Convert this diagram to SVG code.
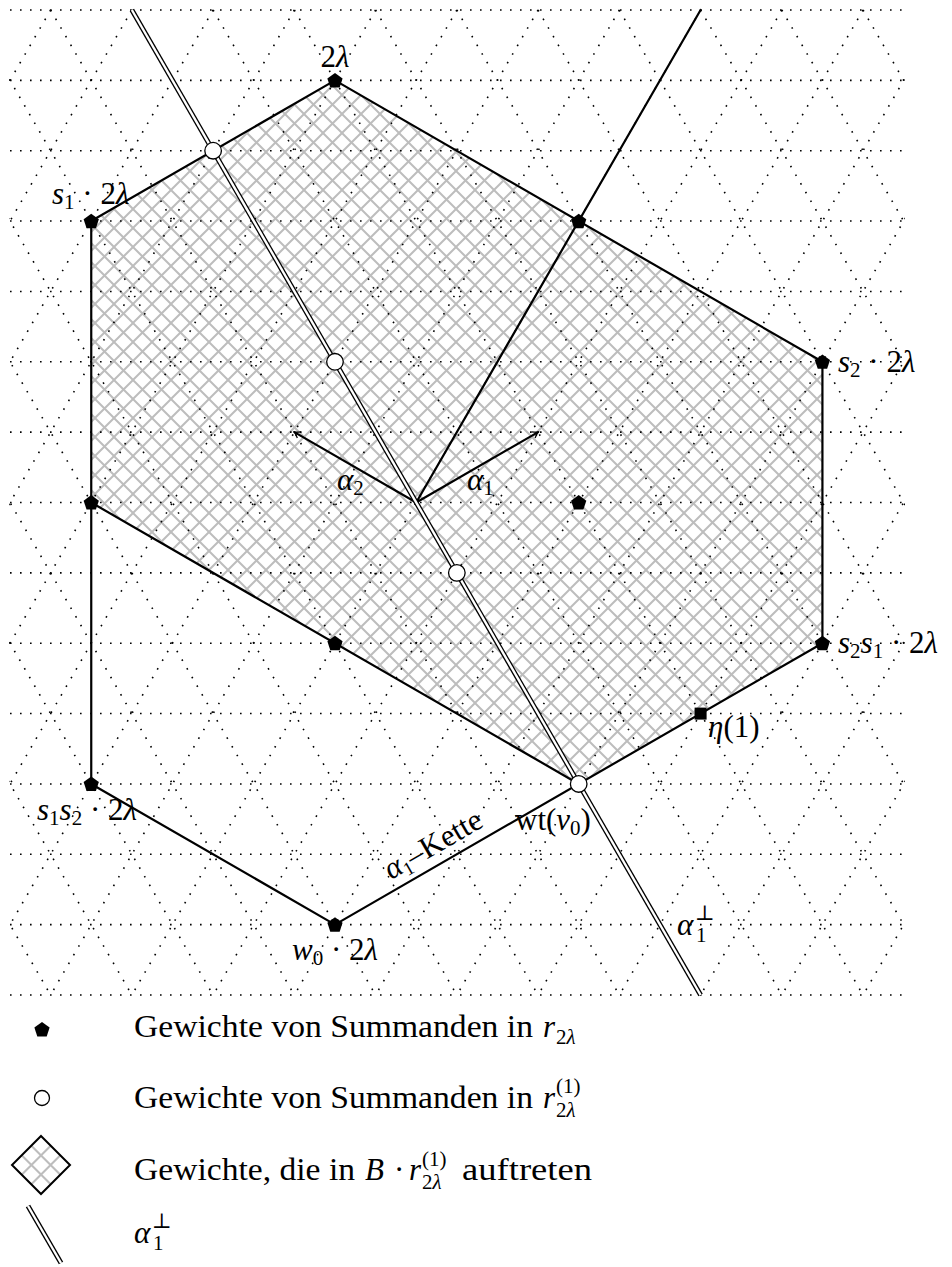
<svg xmlns="http://www.w3.org/2000/svg" width="952" height="1267" viewBox="0 0 952 1267">
<defs>
<style>
.lat{fill:none;stroke:#000;stroke-width:1.6;stroke-dasharray:1.6 8.4}
.edge{fill:none;stroke:#000;stroke-width:2.2;stroke-linejoin:round;stroke-linecap:round}
.dblo{fill:none;stroke:#000;stroke-width:5}
.dbli{fill:none;stroke:#fff;stroke-width:2.4}
.t{font-family:"Liberation Serif","DejaVu Serif",serif;font-size:31px;fill:#000}
.i{font-style:italic}
.sub{font-size:21px}
.hl{stroke:#bdbdbd;stroke-width:2;fill:none}
.open{fill:#fff;stroke:#000;stroke-width:1.3}
</style>
<pattern id="hatch" patternUnits="userSpaceOnUse" x="0" y="0" width="19" height="19">
<path class="hl" d="M-2,-2L21,21M21,-2L-2,21M17,-2L21,2M-2,17L2,21M-2,2L2,-2M17,21L21,17"/>
</pattern>
<clipPath id="latclip"><rect x="9" y="9" width="896" height="987"/></clipPath>
<path id="pent" d="M0,-8L7.61,-2.47L4.70,6.47L-4.70,6.47L-7.61,-2.47Z" fill="#000"/>
<marker id="arr" viewBox="-7 -5 9 10" refX="0" refY="0" markerWidth="9" markerHeight="10" markerUnits="userSpaceOnUse" orient="auto">
<path d="M-5.5,-3.6Q-2,-0.8 0,0Q-2,0.8 -5.5,3.6" fill="none" stroke="#000" stroke-width="1.3"/>
</marker>
</defs>
<rect width="952" height="1267" fill="#fff"/>

<g id="region">
<polygon points="91.24,221.07 334.97,80.36 822.43,361.79 822.43,643.21 578.70,783.93 91.24,502.5" fill="url(#hatch)"/>
</g>

<g id="lattice" clip-path="url(#latclip)">
<path class="lat" d="M10,10H903.67M10,80.36H903.67M10,150.71H903.67M10,221.07H903.67M10,291.43H903.67M10,361.79H903.67M10,432.14H903.67M10,502.5H903.67M10,572.86H903.67M10,643.21H903.67M10,713.57H903.67M10,783.93H903.67M10,854.29H903.67M10,924.64H903.67M10,995H903.67"/>
<path class="lat" d="M-518.08,10L50.61,995M-436.84,10L131.85,995M-355.60,10L213.09,995M-274.35,10L294.34,995M-193.11,10L375.58,995M-111.87,10L456.82,995M-30.62,10L538.07,995M50.62,10L619.31,995M131.86,10L700.55,995M213.11,10L781.80,995M294.35,10L863.04,995M375.59,10L944.28,995M456.84,10L1025.53,995M538.08,10L1106.77,995M619.32,10L1188.01,995M700.57,10L1269.26,995M781.81,10L1350.50,995M863.05,10L1431.74,995"/>
<path class="lat" d="M50.62,10L-518.07,995M131.86,10L-436.83,995M213.11,10L-355.58,995M294.35,10L-274.34,995M375.59,10L-193.10,995M456.84,10L-111.85,995M538.08,10L-30.61,995M619.32,10L50.63,995M700.57,10L131.88,995M781.81,10L213.12,995M863.05,10L294.36,995M944.30,10L375.61,995M1025.54,10L456.85,995M1106.78,10L538.09,995M1188.03,10L619.34,995M1269.27,10L700.58,995M1350.51,10L781.82,995M1431.76,10L863.07,995"/>
</g>

<g id="connectors">
<polygon class="edge" points="334.97,80.36 822.43,361.79 822.43,643.21 334.97,924.64 91.24,783.93 91.24,221.07"/>
<line class="edge" x1="91.24" y1="502.5" x2="578.70" y2="783.93"/>
<line class="edge" x1="416.22" y1="502.5" x2="700.57" y2="10"/>
<line class="edge" x1="416.22" y1="502.5" x2="294.35" y2="432.14" stroke-width="2" marker-end="url(#arr)"/>
<line class="edge" x1="416.22" y1="502.5" x2="538.08" y2="432.14" stroke-width="2" marker-end="url(#arr)"/>
<g id="alpha1perp-line">
<line class="dblo" x1="131.88" y1="10" x2="700.57" y2="995"/>
<line class="dbli" x1="131.88" y1="10" x2="700.57" y2="995"/>
</g>
<text class="t" x="438" y="853" font-size="28" text-anchor="middle" transform="rotate(-30 438 853)"><tspan class="i">α</tspan><tspan font-size="19" dy="5">1</tspan><tspan dy="-5">–Kette</tspan></text>
<text class="t" x="337" y="490"><tspan class="i">α</tspan><tspan class="sub" dy="5">2</tspan></text>
<text class="t" x="467" y="490"><tspan class="i">α</tspan><tspan class="sub" dy="5">1</tspan></text>
<g id="alpha1perp-label">
<text class="t i" x="677" y="935">α</text>
<text class="t sub" x="696" y="942">1</text>
<text class="t sub" x="695" y="920">⊥</text>
</g>
</g>

<g id="nodes">
<g id="n-2lambda"><use href="#pent" x="334.97" y="81"/><text class="t" x="335" y="67" text-anchor="middle">2<tspan class="i">λ</tspan></text></g>
<g id="n-s1"><use href="#pent" x="91.24" y="221.7"/><text class="t" x="52" y="204"><tspan class="i">s</tspan><tspan class="sub" dy="5">1</tspan><tspan dy="-5"> · 2</tspan><tspan class="i">λ</tspan></text></g>
<g id="n-top-right"><use href="#pent" x="578.70" y="221.7"/></g>
<g id="n-s2"><use href="#pent" x="822.43" y="362.4"/><text class="t" x="838" y="372"><tspan class="i">s</tspan><tspan class="sub" dy="5">2</tspan><tspan dy="-5"> · 2</tspan><tspan class="i">λ</tspan></text></g>
<g id="n-mid"><use href="#pent" x="578.70" y="503.1"/></g>
<g id="n-left-mid"><use href="#pent" x="91.24" y="503.1"/></g>
<g id="n-inner"><use href="#pent" x="334.97" y="643.8"/></g>
<g id="n-s2s1"><use href="#pent" x="822.43" y="643.8"/><text class="t" x="838" y="653"><tspan class="i">s</tspan><tspan class="sub" dy="5">2</tspan><tspan class="i" dy="-5">s</tspan><tspan class="sub" dy="5">1</tspan><tspan dy="-5"> · 2</tspan><tspan class="i">λ</tspan></text></g>
<g id="n-s1s2"><use href="#pent" x="91.24" y="784.5"/><text class="t" x="37" y="820"><tspan class="i">s</tspan><tspan class="sub" dy="5">1</tspan><tspan class="i" dy="-5">s</tspan><tspan class="sub" dy="5">2</tspan><tspan dy="-5"> · 2</tspan><tspan class="i">λ</tspan></text></g>
<g id="n-w0"><use href="#pent" x="334.97" y="925.2"/><text class="t" x="292" y="960"><tspan class="i">w</tspan><tspan class="sub" dy="5">0</tspan><tspan dy="-5"> · 2</tspan><tspan class="i">λ</tspan></text></g>
<g id="n-eta"><rect x="694.6" y="707.6" width="12" height="12" fill="#000"/><text class="t" x="708" y="737"><tspan class="i">η</tspan>(1)</text></g>
<g id="c1"><circle class="open" cx="213.11" cy="150.71" r="8.3"/></g>
<g id="c2"><circle class="open" cx="334.97" cy="361.79" r="8.3"/></g>
<g id="c3"><circle class="open" cx="456.84" cy="572.86" r="8.3"/></g>
<g id="c-wt"><circle class="open" cx="578.70" cy="783.93" r="8.3"/><text class="t" x="515" y="830">wt(<tspan class="i">v</tspan><tspan class="sub" dy="5">0</tspan><tspan dy="-5">)</tspan></text></g>
</g>

<g id="legend">
<g id="leg-pent"><use href="#pent" x="42" y="1030"/>
<text class="t" x="134" y="1037" textLength="399" lengthAdjust="spacingAndGlyphs">Gewichte von Summanden in</text>
<text class="t i" x="543" y="1037">r</text><text class="t sub" x="556" y="1044">2<tspan class="i">λ</tspan></text></g>
<g id="leg-circle"><circle class="open" cx="42" cy="1098" r="7.5"/>
<text class="t" x="134" y="1108" textLength="399" lengthAdjust="spacingAndGlyphs">Gewichte von Summanden in</text>
<text class="t i" x="543" y="1108">r</text><text class="t sub" x="556" y="1093">(1)</text><text class="t sub" x="556" y="1117">2<tspan class="i">λ</tspan></text></g>
<g id="leg-diamond">
<polygon points="41,1136 70,1165 41,1194 12,1165" fill="#fff"/>
<path class="hl" d="M50.67,1145.67L21.67,1174.67M60.33,1155.33L31.33,1184.33M31.33,1145.67L60.33,1174.67M21.67,1155.33L50.67,1184.33"/>
<polygon points="41,1136 70,1165 41,1194 12,1165" fill="none" stroke="#000" stroke-width="2"/>
<text class="t" x="134" y="1180" textLength="221" lengthAdjust="spacingAndGlyphs">Gewichte, die in</text>
<text class="t i" x="365" y="1180">B</text>
<text class="t" x="394" y="1180">·</text>
<text class="t i" x="409" y="1180">r</text><text class="t sub" x="422" y="1166">(1)</text><text class="t sub" x="422" y="1189">2<tspan class="i">λ</tspan></text>
<text class="t" x="462" y="1180" textLength="130" lengthAdjust="spacingAndGlyphs">auftreten</text>
</g>
<g id="leg-line">
<line class="dblo" x1="28" y1="1206" x2="61" y2="1263" stroke-width="4.5"/>
<line class="dbli" x1="28" y1="1206" x2="61" y2="1263" stroke-width="2"/>
<text class="t i" x="134" y="1243">α</text>
<text class="t sub" x="153" y="1250">1</text>
<text class="t sub" x="152" y="1228">⊥</text>
</g>
</g>
</svg>
